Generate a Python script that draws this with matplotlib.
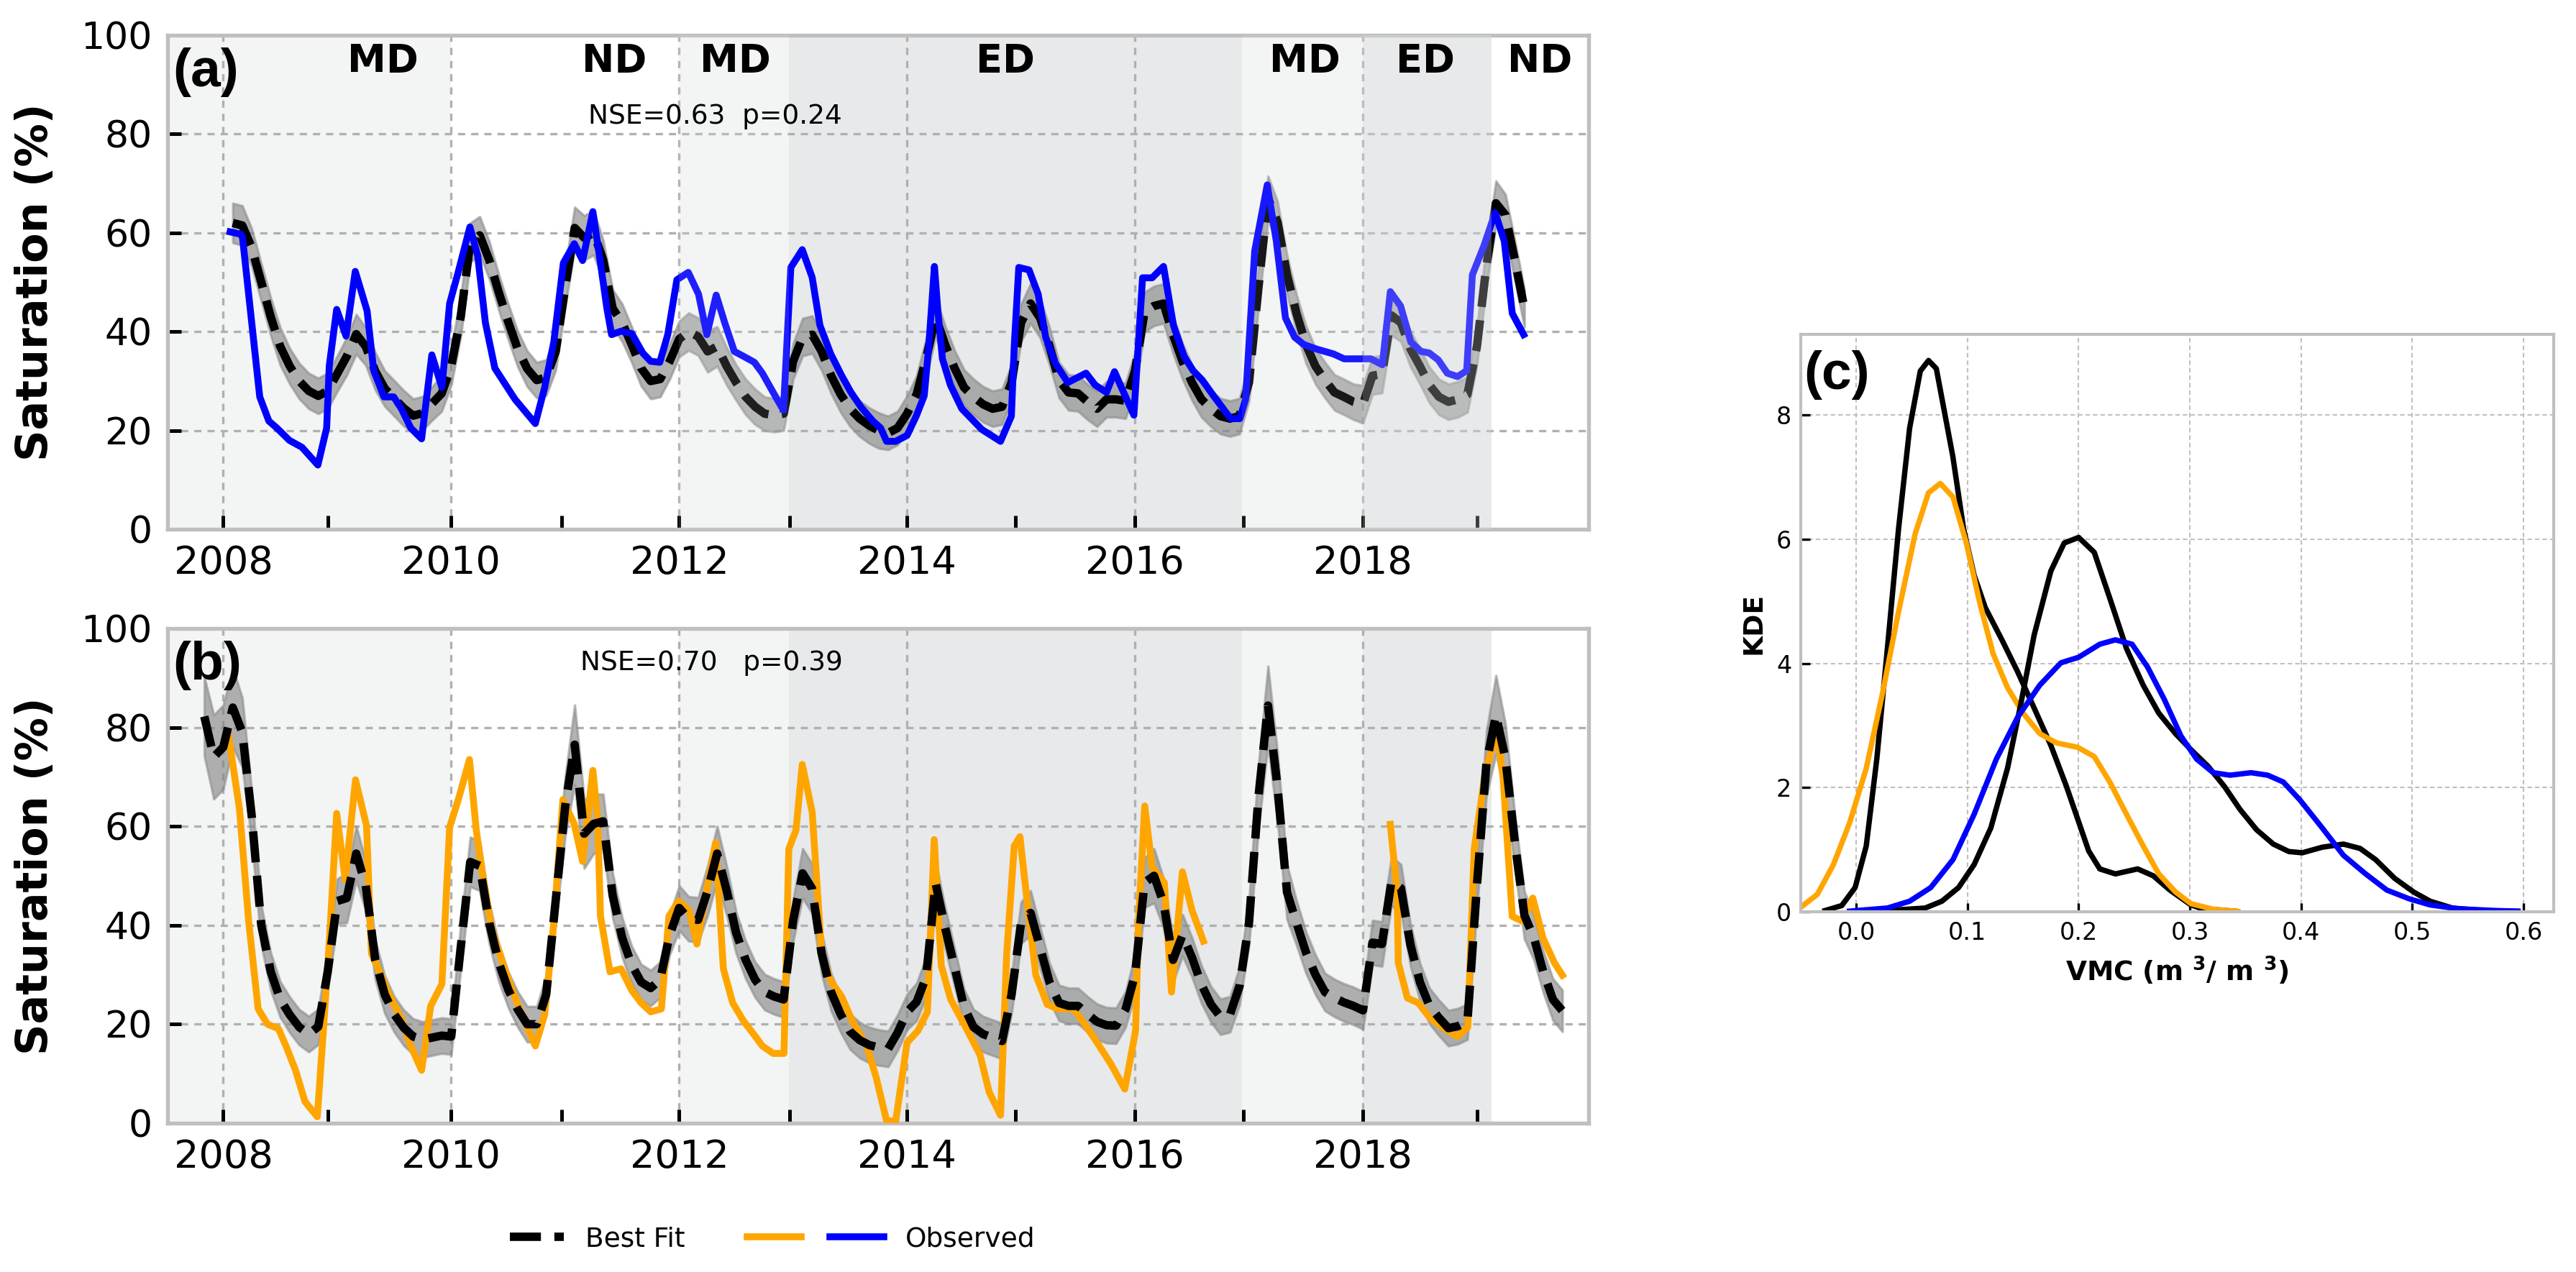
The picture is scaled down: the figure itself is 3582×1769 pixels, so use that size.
import numpy as np
import matplotlib.pyplot as plt
from matplotlib.lines import Line2D

# ---------------- data ----------------
# monthly best fit, panel (a): Feb 2008 .. Jun 2019
fit_a_start = 2008 + 1 / 12
fit_a = [62, 61.5, 57, 50, 43, 37, 33, 30, 28, 27, 28,
         31.5, 35, 39.5, 37, 32, 28.5, 26.5, 24.5, 23, 23.5, 25.5, 27.5,
         33, 43, 58, 59.5, 54.5, 48, 42, 36.5, 32.5, 30.2, 30.7, 36,
         49, 61, 59, 60, 54.5, 44.7, 41.8, 37.4, 32.6, 30, 30.4, 34,
         38.5, 40, 39, 36, 37, 33, 29.7, 26.8, 24.8, 23.4, 23.1, 23.4,
         34, 38.9, 39.4, 36, 31.1, 27.3, 24.4, 22.4, 21, 20, 19.5, 20.5,
         23.4, 27.3, 34.5, 43, 37.4, 32.6, 28.7, 26.8, 25.3, 24.4, 24.8, 29.7,
         41.8, 45.7, 42.8, 37, 30.2, 27.7, 27.5, 25.8, 24.4, 26.3, 26.3, 26,
         32, 44, 45.2, 45.7, 39.4, 34, 29.7, 26.3, 24.4, 22.9, 22.4, 22.9,
         29.7, 49, 67, 62.2, 51.5, 43.7, 37.4, 33, 30.2, 27.7, 26.8, 25.8,
         25.3, 31.1, 31.4, 43.3, 41.8, 36.5, 33, 29.2, 26.8, 25.8, 26.3, 27.3,
         37, 53.4, 66, 63.6, 54.4, 44.7]
spread_a = [4.0, 4.0, 3.8, 3.8, 3.8, 3.8, 3.6, 3.6, 3.6, 3.6, 3.6,
            3.6, 3.8, 4.0, 3.8, 3.8, 3.6, 3.6, 3.6, 3.4, 3.4, 3.4, 3.6,
            3.8, 4.0, 4.0, 3.8, 3.8, 3.6, 3.6, 3.6, 3.6, 3.6, 3.6, 3.8,
            4.0, 4.2, 4.5, 4.5, 4.0, 3.8, 3.8, 3.6, 3.6, 3.6, 3.6, 3.6,
            3.6, 3.8, 3.8, 4.2, 4.0, 3.8, 3.6, 3.6, 3.6, 3.4, 3.4, 3.4,
            3.6, 3.8, 3.8, 3.8, 3.6, 3.6, 3.6, 3.6, 3.6, 3.6, 3.4, 3.4,
            3.6, 3.8, 4.0, 4.0, 3.8, 3.6, 3.6, 3.6, 3.6, 3.6, 3.6, 3.6,
            3.8, 4.0, 4.0, 3.8, 3.6, 3.6, 3.6, 3.6, 3.6, 3.6, 3.6, 3.6,
            3.8, 4.0, 4.0, 4.0, 3.8, 3.6, 3.6, 3.6, 3.6, 3.6, 3.6, 3.6,
            3.8, 4.2, 4.5, 4.2, 4.0, 3.8, 3.8, 3.6, 3.6, 3.6, 3.6, 3.6,
            3.8, 3.8, 3.8, 4.0, 3.8, 3.6, 3.6, 3.6, 3.6, 3.6, 3.6, 3.6,
            3.8, 4.2, 4.5, 4.2, 4.0, 3.8]

# monthly best fit, panel (b): Nov 2007 .. Oct 2019
fit_b_start = 2008 - 2 / 12
fit_b = [82.2, 74,
         76, 84, 79, 62, 40, 30.6, 25, 21.9, 19.4, 18, 19.5, 30.7,
         44.9, 45.5, 54.5, 48, 33, 26, 22, 19.3, 17.5, 16.9, 17.3, 17.7,
         17.5, 35.5, 52.8, 52, 40.5, 32.5, 27, 23, 20, 20, 26, 45,
         64, 76.5, 58.5, 60.5, 61, 46, 37.5, 32, 28.5, 27.3, 29, 38,
         43.5, 41.3, 41.1, 47, 54.5, 47, 38.5, 33, 29, 26.5, 25.6, 25,
         41, 50.5, 47.4, 34.3, 26.5, 22, 18.5, 16.8, 15.8, 15.3, 15, 18.3,
         22.5, 24.5, 29.5, 48.5, 39.5, 31.5, 23.5, 19.4, 18, 17.3, 16.6, 26,
         40.5, 42.5, 35.5, 28.5, 24.3, 23.7, 23.7, 22, 20.5, 19.8, 19.7, 23,
         30, 48.6, 50, 44.5, 33, 38, 33.5, 28, 24, 21.5, 22, 27.7,
         40.5, 66, 84.4, 68, 46.7, 40.5, 34.5, 30, 26.5, 25.3, 24.4, 23.7,
         22.8, 36.5, 36.2, 48.9, 47.5, 36, 28.5, 23.7, 21.3, 19.2, 19.6, 20.5,
         48, 72.7, 82.5, 73.7, 56.7, 42, 37.5, 30.5, 25, 22.7]
spread_b = [8, 8.5,
            8.5, 8, 7, 5, 4, 3.8, 3.6, 3.6, 3.6, 3.6, 3.6, 3.8,
            4.5, 5, 5.5, 5, 4, 3.8, 3.6, 3.6, 3.6, 3.6, 3.6, 3.6,
            3.6, 4.5, 5, 5, 4.2, 3.8, 3.6, 3.6, 3.6, 3.6, 3.8, 4.5,
            6, 8, 7, 6, 5.5, 4.5, 4, 3.8, 3.6, 3.6, 3.6, 4,
            4.5, 4.5, 4.5, 5, 5.5, 5, 4.2, 3.8, 3.6, 3.6, 3.6, 3.6,
            4.2, 5, 5, 4.2, 3.8, 3.6, 3.6, 3.6, 3.6, 3.6, 3.6, 3.6,
            3.6, 3.8, 4, 4.5, 4.2, 3.8, 3.6, 3.6, 3.6, 3.6, 3.6, 3.8,
            4.2, 4.5, 4.2, 3.8, 3.6, 3.6, 3.6, 3.6, 3.6, 3.6, 3.6, 3.6,
            4, 5, 5.5, 5, 4.5, 4.2, 4, 3.8, 3.6, 3.6, 3.6, 3.8,
            4.5, 6.5, 8, 7, 5.5, 4.5, 4.2, 4, 3.8, 3.8, 3.8, 3.8,
            3.8, 4.5, 4.5, 5, 4.8, 4.2, 3.8, 3.6, 3.6, 3.6, 3.6, 3.6,
            4.5, 6.5, 8, 7, 5.5, 4.8, 4.5, 4.2, 4.2, 4.2]

# observed, panel (a)
obs_a_t = [2008.06, 2008.156, 2008.169, 2008.32, 2008.40, 2008.47, 2008.58, 2008.69, 2008.83, 2008.907, 2008.93, 2008.995,
           2009.077, 2009.158, 2009.262, 2009.32, 2009.41, 2009.495, 2009.563, 2009.645, 2009.74, 2009.83, 2009.918, 2009.986,
           2010.055, 2010.164, 2010.232, 2010.30, 2010.383, 2010.56, 2010.738, 2010.82, 2010.90, 2010.984,
           2011.08, 2011.153, 2011.243, 2011.30, 2011.366, 2011.407, 2011.49, 2011.585, 2011.68, 2011.75, 2011.83, 2011.90, 2011.98,
           2012.08, 2012.17, 2012.243, 2012.325, 2012.40, 2012.484, 2012.566, 2012.66, 2012.73, 2012.825, 2012.915, 2012.98,
           2013.08, 2013.167, 2013.235, 2013.33, 2013.426, 2013.508, 2013.60, 2013.70, 2013.768, 2013.82, 2013.90,
           2014.0, 2014.08, 2014.15, 2014.19, 2014.24, 2014.27, 2014.31, 2014.38, 2014.48, 2014.656, 2014.82, 2014.915, 2014.94, 2014.98,
           2015.07, 2015.15, 2015.216, 2015.30, 2015.41, 2015.57, 2015.65, 2015.75, 2015.82, 2015.90, 2015.99,
           2016.066, 2016.15, 2016.25, 2016.337, 2016.43, 2016.51, 2016.59, 2016.68, 2016.79, 2016.84, 2016.92, 2016.97,
           2017.05, 2017.16, 2017.24, 2017.32, 2017.40, 2017.48, 2017.59, 2017.74, 2017.835,
           2018.01, 2018.07, 2018.17, 2018.24, 2018.33, 2018.42, 2018.51, 2018.58, 2018.66, 2018.74, 2018.83, 2018.91, 2018.96,
           2019.06, 2019.16, 2019.24, 2019.31, 2019.41]
obs_a = [60.2, 59.7, 59.0, 26.8, 21.9, 20.5, 18.0, 16.6, 13.0, 20.5, 33.1, 44.5,
         39.1, 52.2, 44.2, 32.1, 26.8, 26.8, 24.4, 20.5, 18.3, 35.3, 28.7, 45.7,
         51.5, 61.2, 55.4, 41.8, 32.6, 26.3, 21.4, 28.7, 37.9, 53.9,
         57.8, 54.4, 64.3, 55.4, 44.7, 39.4, 40.1, 39.6, 35.7, 34.0, 33.8, 39.4, 50.5,
         52.0, 47.6, 39.4, 47.4, 41.8, 36.0, 35.0, 33.8, 31.6, 27.7, 24.1, 53.0,
         56.6, 51.0, 41.3, 35.5, 31.1, 27.7, 24.6, 21.9, 20.5, 17.8, 17.8,
         19.0, 22.9, 27.0, 37.0, 53.2, 44.2, 34.5, 29.2, 24.4, 20.2, 17.8, 22.9, 37.0, 53.0,
         52.5, 47.6, 38.9, 33.6, 29.7, 31.6, 29.2, 27.7, 31.9, 27.7, 23.1,
         50.9, 50.9, 53.2, 41.3, 35.0, 32.1, 30.2, 27.3, 23.9, 22.4, 22.4, 26.3,
         56.3, 69.7, 58.3, 42.8, 38.9, 37.4, 36.5, 35.5, 34.5,
         34.5, 34.5, 33.3, 48.1, 45.2, 37.9, 36.0, 35.7, 34.3, 31.6, 30.9, 32.1, 51.5,
         57.3, 64.1, 58.3, 43.7, 39.4]

# observed, panel (b) (gap 2016.6 - 2018.2)
obs_b_t = [2008.046, 2008.142, 2008.224, 2008.306, 2008.388, 2008.484, 2008.55, 2008.634, 2008.716, 2008.757, 2008.825, 2008.88, 2008.934, 2008.995,
           2009.07, 2009.16, 2009.257, 2009.30, 2009.385, 2009.45, 2009.56, 2009.645, 2009.74, 2009.82, 2009.918, 2009.986,
           2010.07, 2010.16, 2010.22, 2010.273, 2010.355, 2010.46, 2010.546, 2010.656, 2010.738, 2010.82, 2010.90, 2010.98,
           2011.08, 2011.153, 2011.243, 2011.284, 2011.31, 2011.393, 2011.49, 2011.585, 2011.667, 2011.75, 2011.844, 2011.91, 2011.995,
           2012.087, 2012.156, 2012.224, 2012.32, 2012.388, 2012.47, 2012.566, 2012.65, 2012.73, 2012.825, 2012.92, 2012.962,
           2013.025, 2013.08, 2013.167, 2013.25, 2013.33, 2013.426, 2013.52, 2013.645, 2013.727, 2013.82, 2013.90,
           2014.0, 2014.096, 2014.178, 2014.238, 2014.30, 2014.383, 2014.53, 2014.64, 2014.72, 2014.82, 2014.874, 2014.94, 2014.99,
           2015.05, 2015.13, 2015.23, 2015.325, 2015.46, 2015.54, 2015.65, 2015.79, 2015.91,
           2016.005, 2016.03, 2016.085, 2016.15, 2016.257, 2016.32, 2016.416, 2016.50, 2016.60,
           2017.4,
           2018.24, 2018.30, 2018.31, 2018.39, 2018.485, 2018.59, 2018.695, 2018.83, 2018.92, 2018.976,
           2019.07, 2019.175, 2019.23, 2019.31, 2019.40, 2019.49, 2019.58, 2019.68, 2019.75]
obs_b = [78.4, 63.5, 40.5, 23.1, 20.0, 19.1, 15.6, 10.7, 4.4, 3.2, 1.3, 19.4, 38.0, 62.6,
         49.2, 69.4, 60.1, 34.3, 29.9, 26.2, 21.2, 15.6, 10.7, 23.7, 28.1, 59.8,
         66.0, 73.5, 59.2, 50.5, 39.3, 31.8, 26.2, 20.0, 15.6, 21.9, 40.5, 65.4,
         60.4, 52.9, 71.3, 61.7, 41.8, 30.6, 31.2, 26.8, 24.3, 22.5, 23.1, 41.8, 44.9,
         43.0, 36.2, 44.9, 56.7, 31.2, 24.3, 20.6, 18.1, 15.6, 14.1, 14.1, 55.4,
         59.2, 72.5, 62.9, 34.3, 28.7, 25.6, 20.6, 15.6, 9.4, 0.5, 0.4,
         16.3, 18.7, 22.5, 57.3, 31.8, 25.0, 18.7, 13.8, 6.3, 1.6, 34.3, 56.0, 57.9,
         45.5, 29.9, 24.0, 23.1, 23.1, 20.6, 16.9, 11.9, 6.9,
         18.7, 40.5, 64.1, 51.7, 48.6, 26.5, 50.8, 43.0, 36.8,
         np.nan,
         60.4, 46.7, 32.4, 25.3, 24.3, 21.2, 19.4, 17.5, 19.4, 55.4,
         70.4, 79.7, 69.7, 41.8, 40.8, 45.5, 37.4, 32.4, 29.9]

# drought periods
period_edges = [(2007.0, 2010.0), (2010.0, 2012.0), (2012.0, 2012.96), (2012.96, 2016.94),
                (2016.94, 2018.0), (2018.0, 2019.13), (2019.13, 2021.0)]
period_kind = ['MD', 'ND', 'MD', 'ED', 'MD', 'ED', 'ND']
period_label_x = [2009.4, 2011.43, 2012.49, 2014.86, 2017.49, 2018.55, 2019.55]
band_colors = {'MD': '#f3f5f4', 'ED': '#e8e9eb'}

# KDE curves, panel (c)
kde_fit1_x = [-0.028, -0.013, -0.001, 0.009, 0.0185, 0.028, 0.038, 0.048, 0.0576, 0.065,
              0.072, 0.0868, 0.0966, 0.106, 0.116, 0.131, 0.145, 0.16, 0.175, 0.189,
              0.199, 0.209, 0.219, 0.233, 0.253, 0.267, 0.282, 0.301, 0.311, 0.34]
kde_fit1_y = [0.02, 0.1, 0.39, 1.06, 2.46, 4.24, 6.16, 7.79, 8.71, 8.88,
              8.75, 7.34, 6.16, 5.42, 4.9, 4.38, 3.87, 3.28, 2.68, 2.02,
              1.5, 0.98, 0.69, 0.61, 0.69, 0.58, 0.35, 0.11, 0.05, 0.01]
kde_fit2_x = [0.028, 0.062, 0.077, 0.092, 0.106, 0.121, 0.136, 0.148, 0.16, 0.175,
              0.187, 0.2, 0.214, 0.228, 0.243, 0.258, 0.272, 0.287, 0.301, 0.316,
              0.331, 0.345, 0.36, 0.375, 0.389, 0.401, 0.419, 0.438, 0.453, 0.467,
              0.484, 0.501, 0.516, 0.536, 0.565, 0.594]
kde_fit2_y = [0.02, 0.06, 0.17, 0.39, 0.76, 1.35, 2.31, 3.35, 4.46, 5.49,
              5.94, 6.03, 5.79, 5.05, 4.24, 3.65, 3.2, 2.87, 2.61, 2.35,
              2.02, 1.65, 1.32, 1.09, 0.97, 0.95, 1.04, 1.09, 1.02, 0.84,
              0.54, 0.32, 0.17, 0.06, 0.015, 0.007]
kde_obs1_x = [-0.0507, -0.035, -0.0205, -0.006, 0.009, 0.0234, 0.038, 0.053, 0.065, 0.0756,
              0.087, 0.099, 0.111, 0.123, 0.136, 0.15, 0.165, 0.18, 0.199, 0.214,
              0.228, 0.243, 0.258, 0.272, 0.287, 0.301, 0.321, 0.343]
kde_obs1_y = [0.06, 0.28, 0.76, 1.43, 2.31, 3.5, 4.83, 6.09, 6.75, 6.9,
              6.68, 5.94, 4.98, 4.16, 3.61, 3.2, 2.87, 2.72, 2.65, 2.5,
              2.09, 1.57, 1.06, 0.61, 0.32, 0.13, 0.04, 0.007]
kde_obs2_x = [-0.006, 0.028, 0.048, 0.067, 0.087, 0.106, 0.126, 0.145, 0.165, 0.184,
              0.2, 0.219, 0.233, 0.248, 0.262, 0.277, 0.292, 0.306, 0.321, 0.336,
              0.355, 0.37, 0.384, 0.399, 0.419, 0.438, 0.458, 0.477, 0.497, 0.516,
              0.54, 0.575, 0.595]
kde_obs2_y = [0.01, 0.06, 0.17, 0.39, 0.84, 1.57, 2.46, 3.13, 3.65, 4.01,
              4.1, 4.31, 4.38, 4.31, 3.94, 3.42, 2.83, 2.46, 2.24, 2.2,
              2.24, 2.2, 2.09, 1.8, 1.35, 0.91, 0.61, 0.35, 0.21, 0.11,
              0.05, 0.02, 0.01]

year_ticks = [2008, 2010, 2012, 2014, 2016, 2018]
odd_ticks = [2008.92, 2010.97, 2012.97, 2014.95, 2016.95, 2019.0]

# ---------------- figure ----------------
fig = plt.figure(figsize=(3582 / 300, 1769 / 300), dpi=300)
ax_a = fig.add_axes([0.0650, 0.5839, 0.5517, 0.3884])
ax_b = fig.add_axes([0.0650, 0.1170, 0.5517, 0.3890])
ax_c = fig.add_axes([0.6990, 0.2832, 0.2923, 0.4539])

spine_col = '#bfbfbf'
fit_lw = 2.8
obs_lw = 2.3


def style_ts(ax, letter):
    ax.set_xlim(2007.51, 2019.98)
    ax.set_ylim(0, 100)
    ax.set_xticks(year_ticks)
    ax.set_xticklabels([str(y) for y in year_ticks])
    ax.set_xticks(odd_ticks, minor=True)
    ax.set_yticks([0, 20, 40, 60, 80, 100])
    ax.tick_params(axis='both', which='both', direction='in', length=4.5, width=1.2,
                   color='black', pad=5)
    ax.tick_params(axis='x', labelsize=13)
    ax.tick_params(axis='y', labelsize=12.5)
    ax.set_axisbelow(True)
    ax.grid(True, which='major', color='#b0b0b0', lw=0.8, ls=(0, (3, 2.5)))
    for sp in ax.spines.values():
        sp.set_color(spine_col)
        sp.set_linewidth(1.3)
    ax.set_ylabel('Saturation (%)', fontsize=14.5, fontweight='bold')
    ax.yaxis.set_label_coords(-0.078, 0.5)
    ax.text(0.004, 0.925, letter, transform=ax.transAxes, fontsize=18, fontweight='bold',
            family=['Liberation Sans', 'DejaVu Sans'], va='center', ha='left', zorder=10)
    for (x0, x1), kind in zip(period_edges, period_kind):
        if kind in band_colors:
            ax.axvspan(x0, x1, color=band_colors[kind], lw=0, zorder=0)


style_ts(ax_a, '(a)')
style_ts(ax_b, '(b)')

# panel (a)
xa = fit_a_start + np.arange(len(fit_a)) / 12
fa = np.array(fit_a)
sa = np.array(spread_a)
ax_a.fill_between(xa, fa - sa, fa + sa, facecolor='gray', alpha=0.6,
                  edgecolor='#8c8c8c', lw=0.8, zorder=2)
ax_a.plot(xa, fa, color='black', lw=fit_lw, ls='--', zorder=3)
ax_a.plot(obs_a_t, obs_a, color='blue', lw=obs_lw, zorder=4)
# some drought shading sits over the lines in panel (a)
ax_a.axvspan(2012.0, 2012.96, color=band_colors['MD'], alpha=0.13, lw=0, zorder=5)
ax_a.axvspan(2016.94, 2018.0, color=band_colors['MD'], alpha=0.1, lw=0, zorder=5)
ax_a.axvspan(2018.0, 2019.13, color=band_colors['ED'], alpha=0.27, lw=0, zorder=5)
for kind, xl in zip(period_kind, period_label_x):
    ax_a.text(xl, 94.8, kind, fontsize=13, fontweight='bold', ha='center', va='center', zorder=10)
ax_a.text(2011.2, 83.6, 'NSE=0.63  p=0.24', fontsize=9, va='center', ha='left', zorder=10)

# panel (b)
xb = fit_b_start + np.arange(len(fit_b)) / 12
fb = np.array(fit_b)
sb = np.array(spread_b)
ax_b.fill_between(xb, fb - sb, fb + sb, facecolor='gray', alpha=0.6,
                  edgecolor='#8c8c8c', lw=0.8, zorder=2)
ax_b.plot(obs_b_t, obs_b, color='orange', lw=obs_lw, zorder=3)
ax_b.plot(xb, fb, color='black', lw=fit_lw, ls='--', zorder=4)
ax_b.text(2011.13, 93.0, 'NSE=0.70   p=0.39', fontsize=9, va='center', ha='left', zorder=10)

# panel (c)
kde_lw = 1.8
ax_c.plot(kde_fit1_x, kde_fit1_y, color='black', lw=kde_lw)
ax_c.plot(kde_obs1_x, kde_obs1_y, color='orange', lw=kde_lw)
ax_c.plot(kde_fit2_x, kde_fit2_y, color='black', lw=kde_lw)
ax_c.plot(kde_obs2_x, kde_obs2_y, color='blue', lw=kde_lw)
ax_c.set_xlim(-0.05, 0.627)
ax_c.set_ylim(0, 9.3)
ax_c.set_xticks([0.0, 0.1, 0.2, 0.3, 0.4, 0.5, 0.6])
ax_c.set_yticks([0, 2, 4, 6, 8])
ax_c.tick_params(axis='both', direction='in', length=3, width=0.8, labelsize=8, pad=3)
ax_c.set_axisbelow(True)
ax_c.grid(True, color='#c0c0c0', lw=0.5, ls=(0, (3, 2)))
for sp in ax_c.spines.values():
    sp.set_color(spine_col)
    sp.set_linewidth(1.0)
ax_c.set_xlabel('VMC (m $\\mathbf{^3}$/ m $\\mathbf{^3}$)', fontsize=9, fontweight='bold')
ax_c.xaxis.set_label_coords(0.5, -0.075)
ax_c.set_ylabel('KDE', fontsize=9, fontweight='bold')
ax_c.yaxis.set_label_coords(-0.045, 0.5)
ax_c.text(0.004, 0.93, '(c)', transform=ax_c.transAxes, fontsize=18, fontweight='bold',
          family=['Liberation Sans', 'DejaVu Sans'], va='center', ha='left')

# legend at the bottom
h_fit = Line2D([], [], color='black', lw=fit_lw, ls='--')
h_orange = Line2D([], [], color='orange', lw=obs_lw)
h_blue = Line2D([], [], color='blue', lw=obs_lw)
fig.legend([h_fit], ['Best Fit'], loc='center left', bbox_to_anchor=(0.198, 0.026),
           frameon=False, fontsize=9, borderpad=0, borderaxespad=0, handlelength=2.0)
fig.legend([h_orange, h_blue], ['', 'Observed'], ncol=2, columnspacing=0.27,
           loc='center left', bbox_to_anchor=(0.290, 0.026),
           frameon=False, fontsize=9, borderpad=0, borderaxespad=0, handlelength=2.0)

fig.savefig('out.png', dpi=300)
